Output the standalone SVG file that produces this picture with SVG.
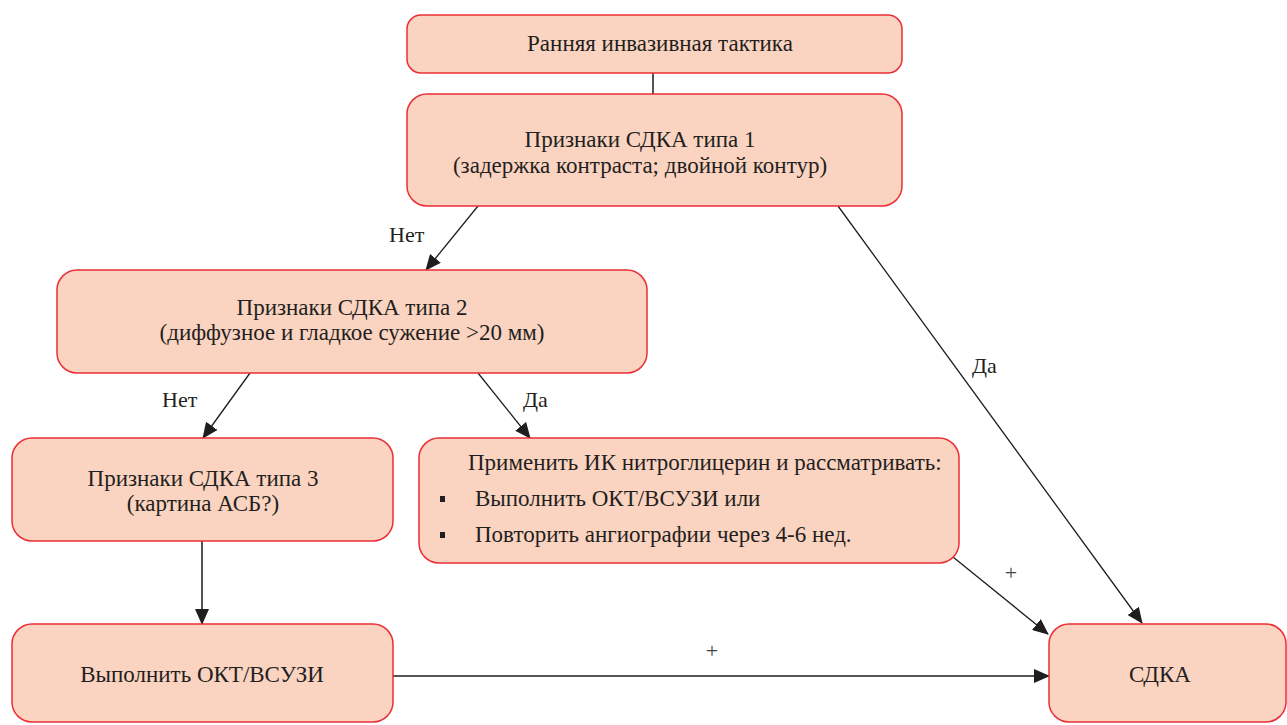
<svg xmlns="http://www.w3.org/2000/svg" width="1287" height="725" viewBox="0 0 1287 725">
<style>
.box{fill:#FBD3C1;stroke:#EC2E36;stroke-width:1.5}
text{font-size:23px;fill:#231F20;font-family:'Liberation Serif','Times New Roman',serif}
.c{text-anchor:middle}
.lbl{font-size:22px}
.plus{font-size:22px;fill:#444}
.ln{stroke:#1E1E1E;stroke-width:1.3;fill:none}
.lg{stroke:#555;stroke-width:2;fill:none}
</style>
<defs>
<marker id="ah" markerUnits="userSpaceOnUse" markerWidth="16" markerHeight="14" refX="15" refY="7" orient="auto">
<path d="M0,0 L16,7 L0,14 Z" fill="#1E1E1E"/>
</marker>
</defs>
<g id="connectors">
<line class="lg" x1="653" y1="73" x2="653" y2="94"/>
<line class="ln" x1="478" y1="206" x2="426" y2="270" marker-end="url(#ah)"/>
<line class="ln" x1="838" y1="206" x2="1142" y2="623" marker-end="url(#ah)"/>
<line class="ln" x1="250" y1="373" x2="203" y2="438" marker-end="url(#ah)"/>
<line class="ln" x1="478" y1="373" x2="530" y2="438" marker-end="url(#ah)"/>
<line class="lg" x1="202" y1="541" x2="202" y2="624" marker-end="url(#ah)"/>
<line class="lg" x1="393" y1="676" x2="1049" y2="676" marker-end="url(#ah)"/>
<line class="ln" x1="953" y1="557" x2="1048" y2="634" marker-end="url(#ah)"/>
<text class="lbl" x="389" y="242">Нет</text>
<text class="lbl" x="972" y="373">Да</text>
<text class="lbl" x="162" y="407">Нет</text>
<text class="lbl" x="523" y="407">Да</text>
<text class="plus c" x="1011" y="580">+</text>
<text class="plus c" x="712" y="658">+</text>
</g>
<g id="n1">
<rect class="box" x="407" y="15" width="495" height="58" rx="14"/>
<text class="c" x="660" y="51">Ранняя инвазивная тактика</text>
</g>
<g id="n2">
<rect class="box" x="407" y="94" width="495" height="112" rx="20"/>
<text class="c" x="640" y="147">Признаки СДКА типа 1</text>
<text class="c" x="640" y="173">(задержка контраста; двойной контур)</text>
</g>
<g id="n3">
<rect class="box" x="57" y="270" width="590" height="103" rx="20"/>
<text class="c" x="352" y="315">Признаки СДКА типа 2</text>
<text class="c" x="352" y="340">(диффузное и гладкое сужение &gt;20 мм)</text>
</g>
<g id="n4">
<rect class="box" x="12" y="438" width="381" height="103" rx="20"/>
<text class="c" x="203" y="486">Признаки СДКА типа 3</text>
<text class="c" x="203" y="511">(картина АСБ?)</text>
</g>
<g id="n5">
<rect class="box" x="419" y="438" width="540" height="125" rx="20"/>
<text x="468" y="470">Применить ИК нитроглицерин и рассматривать:</text>
<rect x="440" y="496" width="5" height="6" fill="#231F20"/>
<text x="475" y="506">Выполнить ОКТ/ВСУЗИ или</text>
<rect x="440" y="532" width="5" height="6" fill="#231F20"/>
<text x="475" y="542">Повторить ангиографии через 4-6 нед.</text>
</g>
<g id="n6">
<rect class="box" x="12" y="624" width="381" height="98" rx="20"/>
<text class="c" x="202" y="682">Выполнить ОКТ/ВСУЗИ</text>
</g>
<g id="n7">
<rect class="box" x="1049" y="624" width="237" height="98" rx="20"/>
<text class="c" x="1160" y="682">СДКА</text>
</g>
</svg>
